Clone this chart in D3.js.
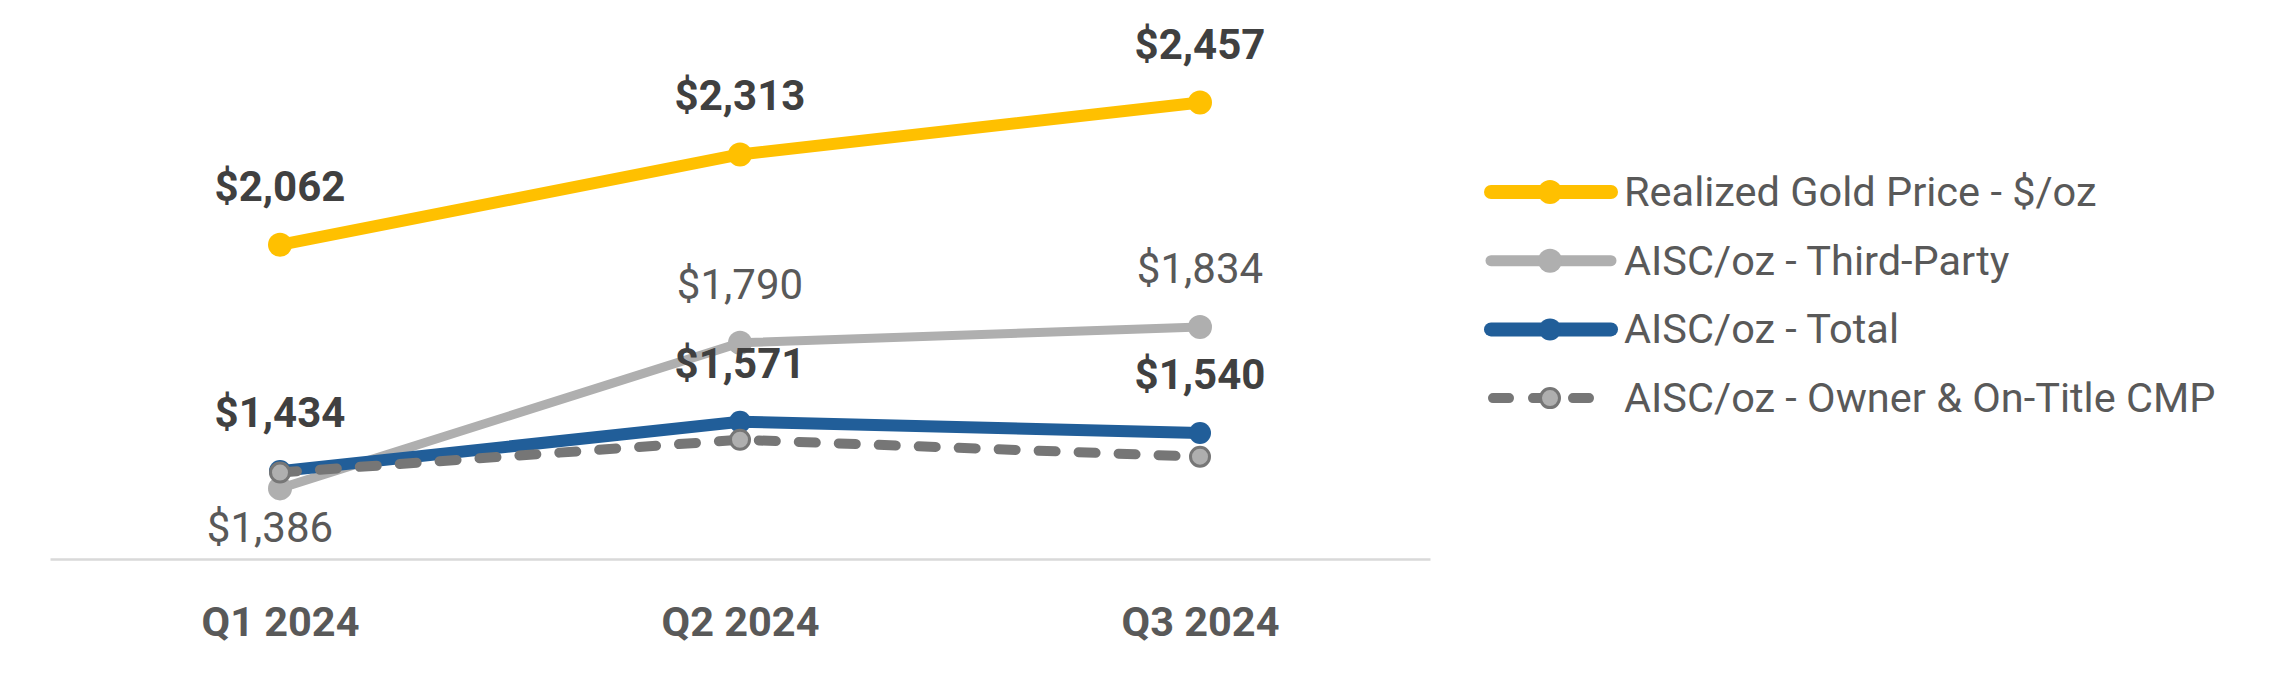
<!DOCTYPE html>
<html lang="en">
	<head>
		<meta charset="utf-8">
		<title>Realized Gold Price and AISC per oz</title>
		<script type="text/javascript" src="https://cdn.jsdelivr.net/npm/d3@7"></script>
		<style type="text/css">
			body { margin: 0; background: #fff; }
			text { font-family: Roboto, "Open Sans", sans-serif; }
		</style>
	</head>
	<body>

		<div id="chart"></div>

		<script type="text/javascript">

		var quarters = ["Q1 2024", "Q2 2024", "Q3 2024"]
		var goldPrice = [2062, 2313, 2457]
		var aiscThirdParty = [1386, 1790, 1834]
		var aiscTotal = [1434, 1571, 1540]
		var aiscOwner = [1430, 1521, 1474]
		var seriesNames = ["Realized Gold Price - $/oz", "AISC/oz - Third-Party", "AISC/oz - Total", "AISC/oz - Owner & On-Title CMP"]

		drawChart()

		function drawChart(){

				var w = 2279
				var h = 674

				var svg = d3.select("#chart")
						.append("svg")
						.attr("width", w)
						.attr("height", h)

				var xScale = d3.scalePoint()
						.domain(quarters)
						.range([50, 1430])
						.padding(0.5)

				var yScale = d3.scaleLinear()
						.domain([1190, 2700])
						.range([559, 15])

				var fmt = function(v){ return "$" + d3.format(",")(v) }

				// one entry per line, drawn bottom to top
				var series = [
						{ name: seriesNames[0], values: goldPrice, color: "#FFC000", width: 12, r: 12, bold: true, below: [] },
						{ name: seriesNames[1], values: aiscThirdParty, color: "#AFAFAF", width: 9, r: 12, bold: false, below: [0] },
						{ name: seriesNames[2], values: aiscTotal, color: "#215E99", width: 12, r: 11, bold: true, below: [] },
						{ name: seriesNames[3], values: aiscOwner, color: "#767676", width: 10, r: 9.5, dash: "17,23", fill: "#AFAFAF", label: false }
				]

				var xAxis = d3.axisBottom()
						.scale(xScale)
						.tickSize(0)
						.tickPadding(48)

				var axisG = svg.append("g")
						.attr("class", "axis")
						.attr("transform", "translate(0,559)")
						.call(xAxis)

				axisG.select(".domain")
						.attr("stroke", "#D9D9D9")
						.attr("stroke-width", 2.5)

				axisG.selectAll(".tick text")
						.attr("fill", "#595959")
						.style("font-size", "41.5px")
						.style("font-weight", "bold")
						.style("font-family", "Roboto, sans-serif")

				var line = d3.line()
						.x(function(d, i){ return xScale(quarters[i]) })
						.y(function(d){ return yScale(d) })

				series.forEach(function(s){
						svg.append("path")
								.datum(s.values)
								.attr("d", line)
								.attr("fill", "none")
								.attr("stroke", s.color)
								.attr("stroke-width", s.width)
								.attr("stroke-linecap", "round")
								.attr("stroke-linejoin", "round")
								.attr("stroke-dasharray", s.dash || null)

						svg.selectAll(null)
								.data(s.values)
								.enter()
								.append("circle")
								.attr("cx", function(d, i){ return xScale(quarters[i]) })
								.attr("cy", function(d){ return yScale(d) })
								.attr("r", s.r)
								.attr("fill", s.fill || s.color)
								.attr("stroke", s.fill ? s.color : "none")
								.attr("stroke-width", 3)
				})

				// data labels on top of everything
				series.forEach(function(s){
						if (s.label === false) return
						svg.selectAll(null)
								.data(s.values)
								.enter()
								.append("text")
								.attr("x", function(d, i){ return xScale(quarters[i]) - (s.below.indexOf(i) >= 0 ? 10 : 0) })
								.attr("y", function(d, i){ return yScale(d) + (s.below.indexOf(i) >= 0 ? 54 : -44) })
								.attr("text-anchor", "middle")
								.attr("fill", s.bold ? "#404040" : "#595959")
								.style("font-size", "42px")
								.style("font-weight", s.bold ? "bold" : "normal")
								.text(fmt)
				})

				var legend = svg.append("g")
						.attr("transform", "translate(1487,192)")

				var items = legend.selectAll("g")
						.data(series)
						.enter()
						.append("g")
						.attr("transform", function(d, i){ return "translate(0," + (i * 68.7) + ")" })

				items.append("line")
						.attr("x1", function(d){ return d.dash ? 6 : 4 })
						.attr("x2", function(d){ return d.dash ? 118 : 124 })
						.attr("stroke", function(d){ return d.color })
						.attr("stroke-width", function(d){ return d.dash ? 10 : d.width + 2 })
						.attr("stroke-linecap", "round")
						.attr("stroke-dasharray", function(d){ return d.dash ? "16,24" : null })

				items.append("circle")
						.attr("cx", 63)
						.attr("r", function(d){ return d.r })
						.attr("fill", function(d){ return d.fill || d.color })
						.attr("stroke", function(d){ return d.fill ? d.color : "none" })
						.attr("stroke-width", 3)

				items.append("text")
						.attr("x", 137)
						.attr("y", 14)
						.attr("fill", "#595959")
						.style("font-size", "41.5px")
						.text(function(d){ return d.name })

		}

		</script>
	</body>
</html>
